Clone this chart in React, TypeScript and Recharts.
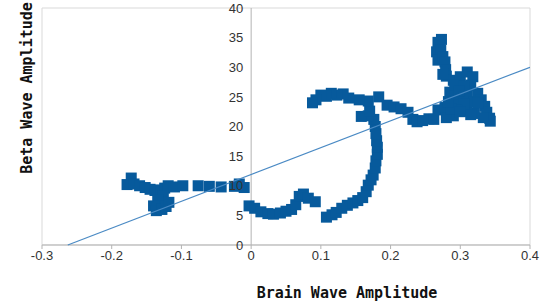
import { ScatterChart, Scatter, XAxis, YAxis, CartesianGrid, ReferenceLine, Label } from 'recharts'

// brain wave amplitude (x) and beta wave amplitude (y) in path order
const brainWave = [
  -0.172, -0.178, -0.168, -0.16, -0.152, -0.145, -0.138, -0.13, -0.124, -0.119,
  -0.11, -0.126, -0.134, -0.14, -0.136, -0.128, -0.122, -0.118, -0.098, -0.076,
  -0.06, -0.043, -0.024, -0.017, -0.01,
  -0.003, 0.005, 0.014, 0.024, 0.032, 0.042, 0.05, 0.058, 0.064, 0.069,
  0.075, 0.082, 0.092, 0.108, 0.116, 0.122, 0.13, 0.138, 0.146, 0.153,
  0.16, 0.165, 0.168, 0.172, 0.175, 0.178, 0.179, 0.181, 0.181, 0.18,
  0.179, 0.178, 0.176, 0.168, 0.158, 0.17, 0.168, 0.155, 0.14, 0.132,
  0.123, 0.115, 0.108, 0.1, 0.093, 0.088, 0.183, 0.195, 0.205, 0.215,
  0.225, 0.232, 0.238, 0.246, 0.255, 0.262, 0.268, 0.278,
  0.273, 0.268, 0.27, 0.266, 0.272, 0.268, 0.275, 0.278, 0.279, 0.28,
  0.29, 0.3, 0.31, 0.318, 0.315, 0.325, 0.33, 0.335, 0.338, 0.342,
  0.343, 0.333, 0.32, 0.31, 0.3, 0.295, 0.29, 0.3, 0.31, 0.32,
  0.305, 0.295, 0.29, 0.28, 0.287, 0.285, 0.292, 0.3, 0.315, 0.325,
  0.305, 0.298, 0.283, 0.275,
]
const betaWave = [
  11.3, 10.2, 10.3, 10.0, 9.7, 9.4, 9.2, 9.3, 9.6, 10.0,
  9.8, 8.3, 7.6, 6.6, 5.8, 6.0, 6.5, 7.2, 10.0, 10.0,
  9.9, 9.8, 9.9, 10.3, 9.7,
  6.6, 6.2, 5.6, 5.3, 5.2, 5.4, 5.7, 6.0, 6.8, 8.2,
  8.6, 7.9, 7.3, 4.7, 5.1, 5.5, 6.2, 6.7, 7.1, 7.5,
  8.0, 9.0, 10.1, 11.0, 11.8, 13.0, 14.2, 15.3, 16.5, 17.6,
  18.8, 20.0, 21.2, 21.8, 21.7, 22.6, 24.3, 24.5, 24.8, 25.5,
  25.3, 25.6, 25.1, 25.3, 24.5, 24.0, 25.0, 23.6, 23.3, 23.0,
  22.4, 21.2, 20.8, 21.0, 21.3, 21.2, 22.8, 23.2,
  34.7, 34.2, 33.8, 32.6, 32.9, 31.2, 31.8, 30.9, 29.6, 28.5,
  27.8, 28.4, 29.2, 28.4, 27.0, 25.6, 24.5, 23.4, 22.4, 21.4,
  20.9, 21.5, 22.2, 22.6, 23.4, 24.5, 25.5, 26.4, 25.5, 24.2,
  23.8, 22.8, 21.8, 21.5, 23.0, 25.8, 27.0, 22.5, 22.0, 24.0,
  26.8, 26.0, 24.2, 28.8,
]

// linear trend line end points
const trendX = [-0.263, 0.4]
const trendY = [0, 30]

const xTicks = [-0.3, -0.2, -0.1, 0, 0.1, 0.2, 0.3, 0.4]
const yTicks = [0, 5, 10, 15, 20, 25, 30, 35, 40]

const points = brainWave.map((x, i) => ({ x, y: betaWave[i] }))
const trend = trendX.map((x, i) => ({ x, y: trendY[i] }))
const yLabels = yTicks.map((y) => ({ x: 0, y }))

const BLUE = '#075a9c'
const titleFont = '"DejaVu Sans Mono", monospace'
const tickFont = '"Liberation Sans", Arial, sans-serif'

const Square = (p: any) => <rect x={p.cx - 5.5} y={p.cy - 5.5} width={11} height={11} fill={BLUE} />

const YTickText = (p: any) => (
  <text x={p.cx - 8} y={p.cy} dy="0.36em" textAnchor="end" fontSize={13} fill="#333" fontFamily={tickFont}>
    {p.payload.y}
  </text>
)

export default function App() {
  return (
    <div style={{ position: 'absolute', left: 0, top: 0, width: 543, height: 305, background: '#fff' }}>
      <ScatterChart width={543} height={305} margin={{ top: 8, right: 13, bottom: 30, left: 0 }}>
        <CartesianGrid vertical={false} stroke="#d9d9d9" />
        <XAxis
          type="number"
          dataKey="x"
          domain={[-0.3, 0.4]}
          ticks={xTicks}
          allowDataOverflow
          height={30}
          stroke="#b3b3b3"
          tickSize={4}
          tick={{ fill: '#333', fontSize: 13, fontFamily: tickFont }}
          tickFormatter={(v: number) => String(Number(v.toFixed(1)))}
        >
          <Label
            content={({ viewBox }: any) => (
              <text
                x={viewBox.x + viewBox.width * 0.625}
                y={viewBox.y + 53}
                textAnchor="middle"
                fontSize={15}
                fontWeight="bold"
                fontFamily={titleFont}
                fill="#111"
              >
                Brain Wave Amplitude
              </text>
            )}
          />
        </XAxis>
        <YAxis
          type="number"
          dataKey="y"
          domain={[0, 40]}
          ticks={yTicks}
          width={42}
          tick={false}
          axisLine={false}
          tickLine={false}
        >
          <Label
            content={() => (
              <text
                x={0}
                y={0}
                transform="translate(27, 88) rotate(-90)"
                textAnchor="middle"
                dominantBaseline="central"
                fontSize={15}
                fontWeight="bold"
                fontFamily={titleFont}
                fill="#111"
              >
                Beta Wave Amplitude
              </text>
            )}
          />
        </YAxis>
        <ReferenceLine x={-0.3} stroke="#d9d9d9" />
        <ReferenceLine x={0.4} stroke="#d9d9d9" />
        <ReferenceLine x={0} stroke="#b3b3b3" />
        <Scatter data={points} shape={Square} isAnimationActive={false} />
        <Scatter
          data={trend}
          line={{ stroke: '#4a8ac4', strokeWidth: 1.2 }}
          shape={() => <g />}
          isAnimationActive={false}
        />
        <Scatter data={yLabels} shape={YTickText} isAnimationActive={false} />
      </ScatterChart>
    </div>
  )
}
